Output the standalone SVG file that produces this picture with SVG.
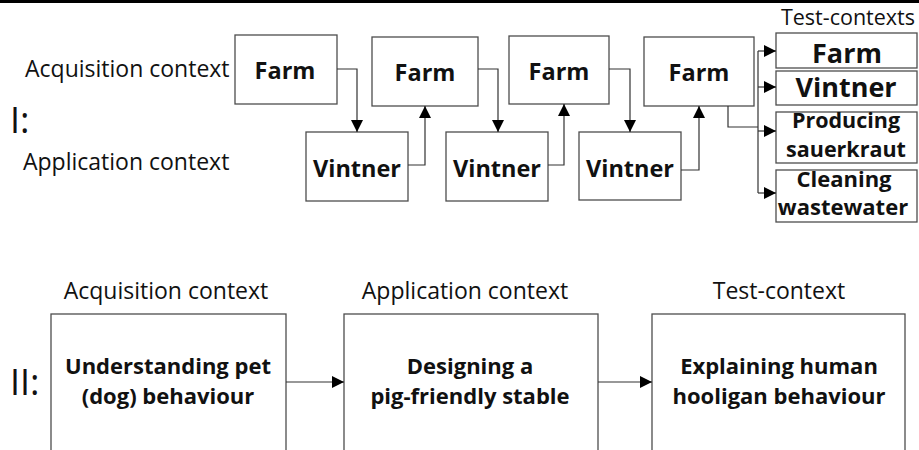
<svg xmlns="http://www.w3.org/2000/svg" width="919" height="450" viewBox="0 0 919 450">
  <style>
    .box { fill: #fff; stroke: #4d4d4d; stroke-width: 1.3; }
    .wire { fill: none; stroke: #333; stroke-width: 1.2; }
    .lbl { font-family: "Open Sans", "Liberation Sans", sans-serif; fill: #111; }
    .b { font-weight: bold; text-anchor: middle; }
    .mid { text-anchor: middle; }
  </style>
  <defs>
    <marker id="head" viewBox="0 0 12 12" refX="12" refY="6" markerWidth="12" markerHeight="12" markerUnits="userSpaceOnUse" orient="auto">
      <path d="M0,0 L12,6 L0,12 Z" fill="#000"/>
    </marker>
  </defs>
  <rect width="919" height="450" fill="#fff"/>
  <rect x="0" y="0" width="919" height="3" fill="#000"/>

  <!-- Part I labels -->
  <text class="lbl" x="25" y="77" font-size="23">Acquisition context</text>
  <text class="lbl" x="23" y="170" font-size="23">Application context</text>
  <text class="lbl" x="10" y="133" font-size="36">I:</text>
  <text class="lbl" x="915" y="25" font-size="21.5" text-anchor="end">Test-contexts</text>

  <!-- Part I nodes -->
  <g id="farm1"><rect class="box" x="235" y="35" width="102" height="69"/><text class="lbl b" x="285" y="79" font-size="23.5">Farm</text></g>
  <g id="vintner1"><rect class="box" x="306" y="132" width="102" height="69"/><text class="lbl b" x="357" y="177" font-size="23.5">Vintner</text></g>
  <g id="farm2"><rect class="box" x="372" y="37" width="106" height="69"/><text class="lbl b" x="425" y="81" font-size="23.5">Farm</text></g>
  <g id="vintner2"><rect class="box" x="446" y="132" width="102" height="69"/><text class="lbl b" x="497" y="177" font-size="23.5">Vintner</text></g>
  <g id="farm3"><rect class="box" x="509" y="36" width="100" height="68"/><text class="lbl b" x="559" y="80" font-size="23.5">Farm</text></g>
  <g id="vintner3"><rect class="box" x="579" y="132" width="102" height="68"/><text class="lbl b" x="630" y="177" font-size="23.5">Vintner</text></g>
  <g id="farm4"><rect class="box" x="644" y="37" width="110" height="69"/><text class="lbl b" x="699" y="81" font-size="23.5">Farm</text></g>

  <g id="test-farm"><rect class="box" x="776" y="33" width="141" height="35"/><text class="lbl b" x="847" y="63" font-size="27">Farm</text></g>
  <g id="test-vintner"><rect class="box" x="776" y="71" width="141" height="34"/><text class="lbl b" x="846" y="97" font-size="27">Vintner</text></g>
  <g id="test-sauerkraut"><rect class="box" x="776" y="112" width="141" height="51"/><text class="lbl b" x="846" y="128" font-size="21.5">Producing</text><text class="lbl b" x="846" y="157" font-size="21.5">sauerkraut</text></g>
  <g id="test-wastewater"><rect class="box" x="776" y="170" width="141" height="52"/><text class="lbl b" x="844" y="187" font-size="22">Cleaning</text><text class="lbl b" x="843" y="215" font-size="22">wastewater</text></g>

  <!-- Part II labels -->
  <text class="lbl mid" x="166" y="299" font-size="23">Acquisition context</text>
  <text class="lbl mid" x="465" y="299" font-size="23">Application context</text>
  <text class="lbl mid" x="779" y="299" font-size="23">Test-context</text>
  <text class="lbl" x="10" y="395" font-size="36">II:</text>

  <!-- Part II nodes -->
  <g id="dog"><rect class="box" x="51" y="314" width="235" height="150"/><text class="lbl b" x="168" y="374" font-size="22">Understanding pet</text><text class="lbl b" x="168" y="404" font-size="22">(dog) behaviour</text></g>
  <g id="pig"><rect class="box" x="344" y="314" width="254" height="150"/><text class="lbl b" x="470" y="374" font-size="22">Designing a</text><text class="lbl b" x="470" y="404" font-size="22">pig-friendly stable</text></g>
  <g id="hooligan"><rect class="box" x="652" y="314" width="253" height="150"/><text class="lbl b" x="779" y="374" font-size="22">Explaining human</text><text class="lbl b" x="779" y="404" font-size="22">hooligan behaviour</text></g>

  <!-- Connectors -->
  <g id="connectors">
    <path class="wire" d="M337,69 H357 V132" marker-end="url(#head)"/>
    <path class="wire" d="M408,165 H425 V106" marker-end="url(#head)"/>
    <path class="wire" d="M478,69 H498 V132" marker-end="url(#head)"/>
    <path class="wire" d="M548,165 H564 V104" marker-end="url(#head)"/>
    <path class="wire" d="M609,69 H630 V132" marker-end="url(#head)"/>
    <path class="wire" d="M681,170 H699 V106" marker-end="url(#head)"/>
    <path class="wire" d="M728,106 V127 H758"/>
    <path class="wire" d="M758,51 V193"/>
    <path class="wire" d="M758,51 H776" marker-end="url(#head)"/>
    <path class="wire" d="M758,87 H776" marker-end="url(#head)"/>
    <path class="wire" d="M758,131 H776" marker-end="url(#head)"/>
    <path class="wire" d="M758,193 H776" marker-end="url(#head)"/>
    <path class="wire" d="M286,382 H344" marker-end="url(#head)"/>
    <path class="wire" d="M598,382 H652" marker-end="url(#head)"/>
  </g>
</svg>
